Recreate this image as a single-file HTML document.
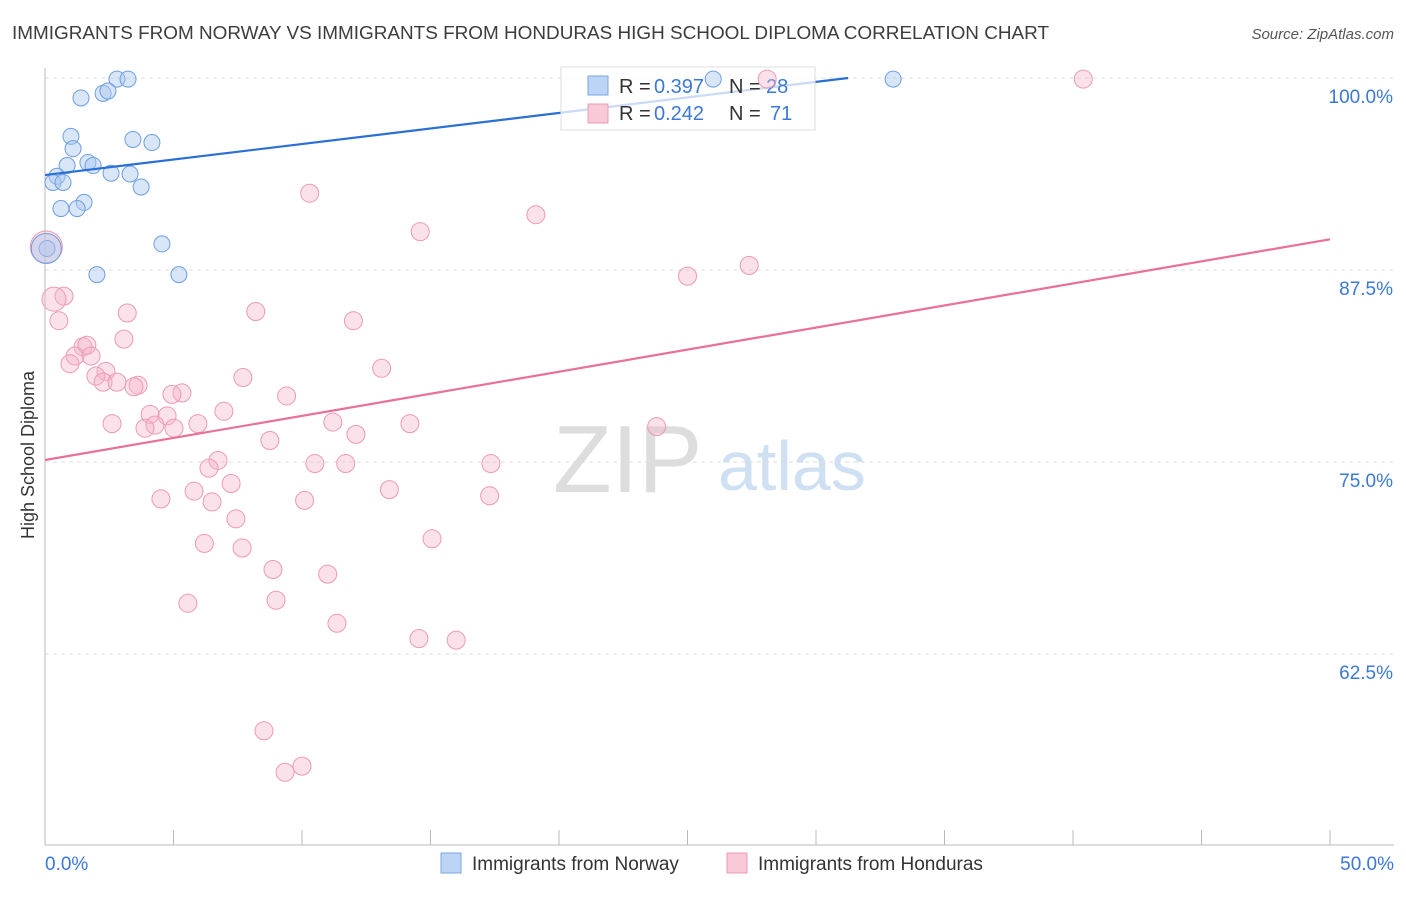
<!DOCTYPE html>
<html><head><meta charset="utf-8"><style>
body{margin:0;background:#fff;font-family:"Liberation Sans",sans-serif;}
svg text{font-family:"Liberation Sans",sans-serif;}
</style></head><body>
<svg id="chart" width="1406" height="892">
<text x="12" y="39" font-size="18" fill="#3c3c3c" textLength="1037" lengthAdjust="spacingAndGlyphs">IMMIGRANTS FROM NORWAY VS IMMIGRANTS FROM HONDURAS HIGH SCHOOL DIPLOMA CORRELATION CHART</text>
<text x="1394" y="39" font-size="15" fill="#555" text-anchor="end" font-style="italic">Source: ZipAtlas.com</text>
<text transform="translate(34,455) rotate(-90)" font-size="18" fill="#333" text-anchor="middle">High School Diploma</text>
<g><text x="553" y="492" font-size="96" fill="#ddd" font-family="Liberation Serif,serif">ZIP</text><text x="718" y="490" font-size="70" fill="#cfe0f3">atlas</text></g>
<g id="grid"></g><g id="marks"></g>
<g>
<rect x="561" y="67" width="254" height="63" fill="rgba(255,255,255,0.75)" stroke="#ddd"/>
<rect x="588" y="76" width="20" height="19" fill="#bcd4f5" stroke="#7aa6e0"/>
<rect x="588" y="104" width="20" height="19" fill="#f9c9d8" stroke="#ec9bb5"/>
<text x="619" y="93" font-size="20" fill="#333">R = </text><text x="654" y="93" font-size="20" fill="#3b78d8">0.397</text>
<text x="729" y="93" font-size="20" fill="#333">N = </text><text x="766" y="93" font-size="20" fill="#3b78d8">28</text>
<text x="619" y="120" font-size="20" fill="#333">R = </text><text x="654" y="120" font-size="20" fill="#3b78d8">0.242</text>
<text x="729" y="120" font-size="20" fill="#333">N = </text><text x="770" y="120" font-size="20" fill="#3b78d8">71</text>
</g>
<g>
<rect x="441" y="853" width="20" height="20" fill="#bcd4f5" stroke="#7aa6e0"/>
<text x="472" y="870" font-size="19" fill="#333">Immigrants from Norway</text>
<rect x="727" y="853" width="20" height="20" fill="#f9c9d8" stroke="#ec9bb5"/>
<text x="758" y="870" font-size="19" fill="#333">Immigrants from Honduras</text>
</g>
<g id="topG"></g>
</svg>
<script>
const yTicks=[100,87.5,75,62.5];
const yTickLabels=["100.0%","87.5%","75.0%","62.5%"];
const norwayX=[2.8,3.23,1.4,2.26,2.45,1.01,3.42,4.16,1.09,1.67,1.87,0.86,2.57,3.31,0.47,0.31,0.70,3.74,1.52,0.62,1.25,4.55,0.08,2.02,5.21,26.0,33.0,0.05];
const norwayY=[99.93,99.93,98.7,99.0,99.15,96.2,96.0,95.8,95.4,94.5,94.3,94.3,93.8,93.75,93.6,93.2,93.2,92.9,91.9,91.5,91.5,89.2,88.9,87.2,87.2,99.93,99.93,88.9];
const hondX=[40.4,28.1,10.3,19.1,14.6,27.4,25.0,0.74,0.35,8.2,3.2,0.54,12.0,3.07,1.48,1.63,1.17,1.79,0.97,13.1,2.37,1.98,2.26,7.7,2.8,3.62,3.46,9.4,5.33,4.94,4.09,4.75,6.96,11.2,14.2,2.61,4.28,5.95,5.02,3.89,23.8,12.1,8.75,6.73,10.5,11.7,17.35,6.38,7.24,13.4,5.8,17.3,4.51,10.1,6.5,7.43,15.06,6.2,7.67,8.87,11.0,5.56,8.99,11.36,14.55,16.0,8.52,10.0,9.34,0.05];
const hondY=[99.93,99.93,92.5,91.1,90.0,87.8,87.1,85.8,85.6,84.8,84.7,84.2,84.2,83.0,82.5,82.6,81.9,81.9,81.4,81.1,80.9,80.6,80.2,80.5,80.2,80.0,79.9,79.3,79.5,79.4,78.1,78.0,78.3,77.6,77.5,77.5,77.4,77.5,77.2,77.2,77.3,76.8,76.4,75.1,74.9,74.9,74.9,74.6,73.6,73.2,73.1,72.8,72.6,72.5,72.4,71.3,70.0,69.7,69.4,68.0,67.7,65.8,66.0,64.5,63.5,63.4,57.5,55.2,54.8,89.0];
const norwaySize=[9,9,9,9,9,9,9,9,9,9,9,9,9,9,9,9,9,9,9,9,9,9,9,9,9,9,9,16];
const trendNorway=[93.68,100.0];const trendNorwayX=[0,31.25];
const trendHond=[75.13,89.5];const trendHondX=[0,50];
const ns="http://www.w3.org/2000/svg";
const X=v=>45+v/50*1285, Y=v=>78+(100-v)/12.5*192;
const grid=document.getElementById('grid'),marks=document.getElementById('marks'),topG=document.getElementById('topG');
function mk(tag,at,par){const e=document.createElementNS(ns,tag);for(const k in at)e.setAttribute(k,at[k]);par.appendChild(e);return e;}
yTicks.forEach((t,i)=>{const l=mk('line',{x1:45,x2:1394,y1:Y(t),y2:Y(t),stroke:'#ddd','stroke-dasharray':'4,4'},grid);


const tx=mk('text',{x:1393,y:Y(t)+25,'font-size':19,fill:'#3b78d8','text-anchor':'end'},grid);tx.textContent=yTickLabels[i];

});
const ax=mk('line',{x1:45,x2:1394,y1:845,y2:845,stroke:'#bbb'},grid);


const ay=mk('line',{x1:45,x2:45,y1:68,y2:845,stroke:'#bbb'},grid);


for(let i=1;i<=10;i++){const t=mk('line',{x1:X(i*5),x2:X(i*5),y1:830,y2:845,stroke:'#bbb'},grid);

}
[["0.0%",45,'start'],["50.0%",1394,'end']].forEach(a=>{const t=mk('text',{x:a[1],y:870,'font-size':19,fill:'#3b78d8','text-anchor':a[2]},grid);t.textContent=a[0];

});
hondX.forEach((x,i)=>{const r=i==hondX.length-1?16:(i==8?12:9);const c=mk('circle',{cx:X(x),cy:Y(hondY[i]),r:r,fill:'rgba(246,180,203,0.4)',stroke:'#eb9ab6','stroke-width':1},i<2?topG:marks);

});
norwayX.forEach((x,i)=>{const c=mk('circle',{cx:X(x),cy:Y(norwayY[i]),r:norwaySize[i]-1,fill:'rgba(170,200,240,0.45)',stroke:'#6d9fdf','stroke-width':1},i==25?topG:marks);

});
const l1=mk('line',{x1:X(trendNorwayX[0]),y1:Y(trendNorway[0]),x2:X(trendNorwayX[1]),y2:Y(trendNorway[1]),stroke:'#2a6fd6','stroke-width':2.2},marks);


const l2=mk('line',{x1:X(trendHondX[0]),y1:Y(trendHond[0]),x2:X(trendHondX[1]),y2:Y(trendHond[1]),stroke:'#e8709a','stroke-width':2.2},marks);


</script>
</body></html>
